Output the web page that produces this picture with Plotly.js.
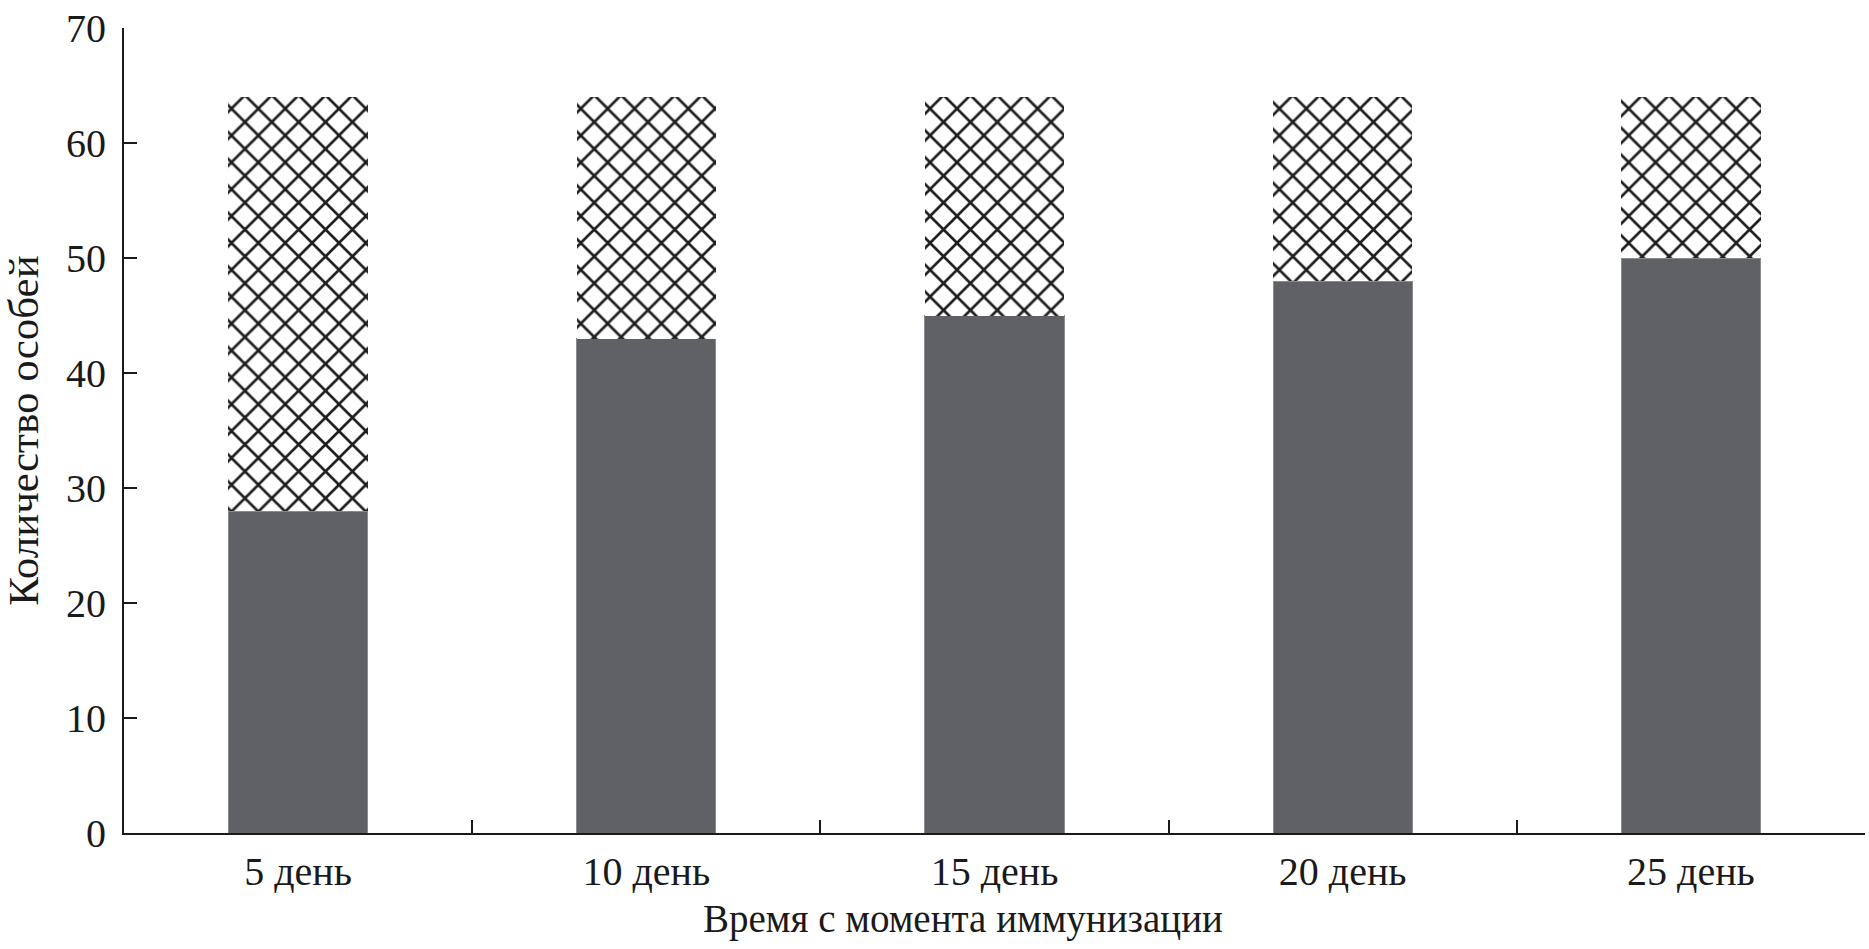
<!DOCTYPE html>
<html>
<head>
<meta charset="utf-8">
<script src="https://cdn.plot.ly/plotly-3.0.1.min.js"></script>
<style>html,body{margin:0;padding:0;background:#fff;}#chart{width:1869px;height:949px;}</style>
</head>
<body>
<div id="chart"></div>
<script>
const categories = ["5 день", "10 день", "15 день", "20 день", "25 день"];
const lowerValues = [28, 43, 45, 48, 50];
const upperValues = [36, 21, 19, 16, 14];
const yTickValues = [0, 10, 20, 30, 40, 50, 60, 70];
const xTitle = "Время с момента иммунизации";
const yTitle = "Количество особей";

const fontFamily = "'Liberation Serif', 'DejaVu Serif', serif";
const ink = "#1a1a1a";

const traces = [
  {
    type: "bar",
    x: categories,
    y: lowerValues,
    marker: { color: "#606165", line: { color: "#8a8b8e", width: 1 } },
    hoverinfo: "x+y",
    showlegend: false
  },
  {
    type: "bar",
    x: categories,
    y: upperValues,
    marker: {
      color: "#ffffff",
      line: { width: 0 },
      pattern: { shape: "x", fgcolor: "#1e1e1e", bgcolor: "#ffffff", size: 19, solidity: 0.26, fillmode: "replace" }
    },
    hoverinfo: "x+y",
    showlegend: false
  }
];

const layout = {
  width: 1869,
  height: 949,
  margin: { l: 124, r: 4, t: 28, b: 116 },
  paper_bgcolor: "#ffffff",
  plot_bgcolor: "#ffffff",
  barmode: "stack",
  bargap: 0.6,
  font: { family: fontFamily, size: 40, color: ink },
  xaxis: {
    type: "category",
    showline: true,
    linecolor: ink,
    linewidth: 2,
    ticks: "inside",
    tickson: "boundaries",
    ticklen: 13,
    tickwidth: 2,
    tickcolor: ink,
    showgrid: false,
    zeroline: false,
    ticklabelstandoff: 2,
    tickfont: { family: fontFamily, size: 40, color: ink }
  },
  yaxis: {
    range: [0, 70],
    tickvals: yTickValues,
    showline: true,
    linecolor: ink,
    linewidth: 2,
    ticks: "inside",
    ticklen: 13,
    tickwidth: 2,
    tickcolor: ink,
    showgrid: false,
    zeroline: false,
    ticklabelstandoff: 8,
    tickfont: { family: fontFamily, size: 40, color: ink },
    title: { text: yTitle, font: { family: fontFamily, size: 43, color: ink }, standoff: 14 }
  },
  annotations: [
    {
      text: xTitle,
      xref: "paper", yref: "paper",
      x: 0.482, y: -0.107,
      xanchor: "center", yanchor: "middle",
      showarrow: false,
      font: { family: fontFamily, size: 39, color: ink }
    }
  ]
};

Plotly.newPlot("chart", traces, layout, { displayModeBar: false, responsive: false });
</script>
</body>
</html>
